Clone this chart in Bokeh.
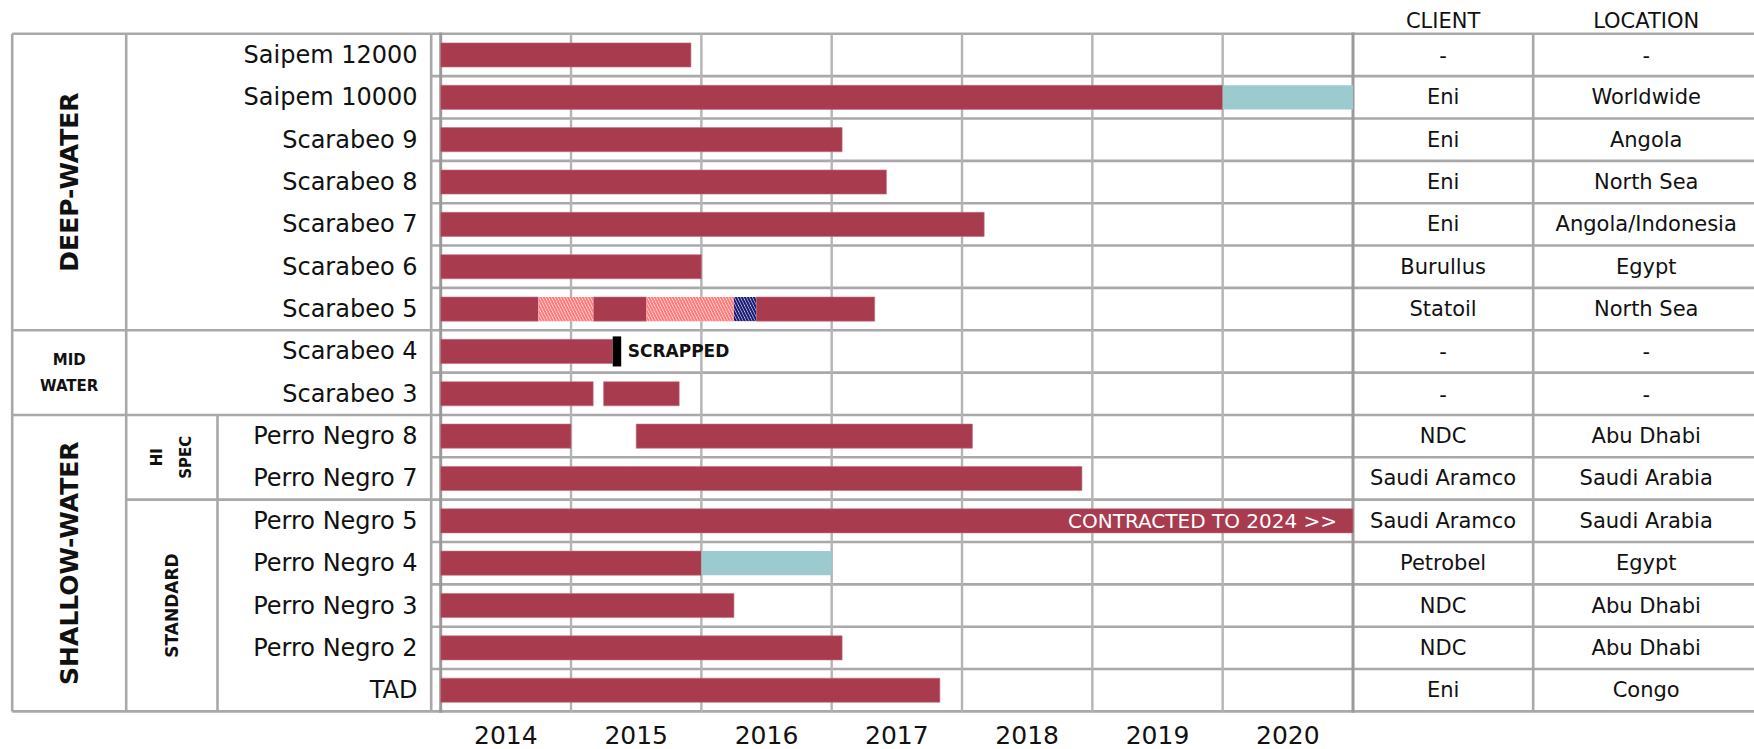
from bokeh.plotting import figure
from bokeh.models import Range1d
from bokeh.core.properties import value
from bokeh.embed import file_html
from bokeh.resources import INLINE
import math

# ---------------- data ----------------
rigs = ["Saipem 12000", "Saipem 10000", "Scarabeo 9", "Scarabeo 8", "Scarabeo 7",
        "Scarabeo 6", "Scarabeo 5", "Scarabeo 4", "Scarabeo 3", "Perro Negro 8",
        "Perro Negro 7", "Perro Negro 5", "Perro Negro 4", "Perro Negro 3",
        "Perro Negro 2", "TAD"]
clients = ["-", "Eni", "Eni", "Eni", "Eni", "Burullus", "Statoil", "-", "-", "NDC",
           "Saudi Aramco", "Saudi Aramco", "Petrobel", "NDC", "NDC", "Eni"]
locations = ["-", "Worldwide", "Angola", "North Sea", "Angola/Indonesia", "Egypt",
             "North Sea", "-", "-", "Abu Dhabi", "Saudi Arabia", "Saudi Arabia", "Egypt",
             "Abu Dhabi", "Abu Dhabi", "Congo"]
table_headers = ["CLIENT", "LOCATION"]

groups = ["DEEP-WATER", "MID\nWATER", "SHALLOW-WATER"]
group_first = ["Saipem 12000", "Scarabeo 4", "Perro Negro 8"]
group_last = ["Scarabeo 5", "Scarabeo 3", "TAD"]
group_rotated = [True, False, True]
subgroups = ["HI\nSPEC", "STANDARD"]
subgroup_first = ["Perro Negro 8", "Perro Negro 5"]
subgroup_last = ["Perro Negro 7", "TAD"]

years = ["2014", "2015", "2016", "2017", "2018", "2019", "2020"]

# contracted periods (decimal years)
contract_rig = ["Saipem 12000", "Saipem 10000", "Scarabeo 9", "Scarabeo 8", "Scarabeo 7",
                "Scarabeo 6", "Scarabeo 5", "Scarabeo 5", "Scarabeo 5", "Scarabeo 4",
                "Scarabeo 3", "Scarabeo 3", "Perro Negro 8", "Perro Negro 8",
                "Perro Negro 7", "Perro Negro 5", "Perro Negro 4", "Perro Negro 3",
                "Perro Negro 2", "TAD"]
contract_start = [2014.0, 2014.0, 2014.0, 2014.0, 2014.0,
                  2014.0, 2014.0, 2015.17, 2016.42, 2014.0,
                  2014.0, 2015.25, 2014.0, 2015.5,
                  2014.0, 2014.0, 2014.0, 2014.0,
                  2014.0, 2014.0]
contract_end = [2015.92, 2020.0, 2017.08, 2017.42, 2018.17,
                2016.0, 2014.75, 2015.58, 2017.33, 2015.32,
                2015.17, 2015.83, 2015.0, 2018.08,
                2018.92, 2021.0, 2016.0, 2016.25,
                2017.08, 2017.83]
# option periods
option_rig = ["Saipem 10000", "Perro Negro 4"]
option_start = [2020.0, 2016.0]
option_end = [2021.0, 2017.0]
# idle periods (red hatch)
idle_rig = ["Scarabeo 5", "Scarabeo 5"]
idle_start = [2014.75, 2015.58]
idle_end = [2015.17, 2016.25]
# yard periods (navy hatch)
yard_rig = ["Scarabeo 5"]
yard_start = [2016.25]
yard_end = [2016.42]
# scrapped
scrapped_rig = ["Scarabeo 4"]
scrapped_date = [2015.32]
scrapped_label = ["SCRAPPED"]
# notes on bars
note_rig = ["Perro Negro 5"]
note_text = ["CONTRACTED TO 2024 >>"]

# ---------------- styles / layout ----------------
RED = "#A93B4F"
TEAL = "#9CCBCF"
HATCH_RED = "#FF7C7C"
NAVY = "#1C1C78"
LINE = "#a9a9a9"
BORDER = "#9a9a9a"
FONT = value("DejaVu Sans")

W, H = 1754, 749
ORIGIN = 0
ROW_PX = 42.35
TOP_PX = 33.3
X_START_PX = 440.2
YEAR_PX = 130.33
L0, L1, L2, L3 = 11.7, 125.7, 217.0, 430.7
R1 = 1532.7
R_END = ORIGIN + W
LABEL_RIGHT = 417
BAR_H = 0.57

N = len(rigs)
row = {r: i for i, r in enumerate(rigs)}

def center(names):
    return [row[n] + 0.5 for n in names]

y_top = -(TOP_PX - ORIGIN) / ROW_PX
y_bot = y_top + H / ROW_PX
y_first = int(years[0])
y_last = int(years[-1]) + 1
yr_start = y_first - (X_START_PX - ORIGIN) / YEAR_PX
gantt_right_px = X_START_PX + (y_last - y_first) * YEAR_PX

p = figure(width=W, height=H, x_range=Range1d(ORIGIN, ORIGIN + W),
           y_range=Range1d(y_bot, y_top), output_backend="svg",
           toolbar_location=None, min_border=0, outline_line_color=None,
           x_axis_location=None, y_axis_location=None)
p.grid.visible = False
p.extra_x_ranges = {"yr": Range1d(yr_start, yr_start + W / YEAR_PX)}

# ---------------- table lines ----------------
sub_top = row[subgroup_first[0]]
x0s, x1s, y0s, y1s = [], [], [], []
for x in (L0, L1, L3):
    x0s.append(x); x1s.append(x); y0s.append(0); y1s.append(N)
x0s.append(L2); x1s.append(L2); y0s.append(sub_top); y1s.append(N)
for g in group_first:
    x0s.append(L0); x1s.append(L3); y0s.append(row[g]); y1s.append(row[g])
x0s.append(L0); x1s.append(L3); y0s.append(N); y1s.append(N)
for s in subgroup_first[1:]:
    x0s.append(L1); x1s.append(L3); y0s.append(row[s]); y1s.append(row[s])
for k in range(0, N + 1):
    x0s.append(L3); x1s.append(R_END); y0s.append(k); y1s.append(k)
x0s.append(R1); x1s.append(R1); y0s.append(0); y1s.append(N)
p.segment(x0=x0s, y0=y0s, x1=x1s, y1=y1s, line_color=LINE, line_width=2.6)

# year grid lines
yb = list(range(y_first + 1, y_last))
p.segment(x0=yb, x1=yb, y0=[0] * len(yb), y1=[N] * len(yb), line_color="#b4b4b4",
          line_width=2.4, x_range_name="yr")
# gantt border
p.segment(x0=[y_first, y_last], x1=[y_first, y_last], y0=[-0.03, -0.03], y1=[N + 0.03, N + 0.03],
          line_color=BORDER, line_width=3, x_range_name="yr")

# ---------------- bars ----------------
p.hbar(y=center(contract_rig), left=contract_start, right=contract_end, height=BAR_H,
       fill_color=RED, line_color="#c07080", line_width=0.6, x_range_name="yr")
p.hbar(y=center(option_rig), left=option_start, right=option_end, height=BAR_H,
       fill_color=TEAL, line_color=None, x_range_name="yr")
p.hbar(y=center(idle_rig), left=idle_start, right=idle_end, height=BAR_H,
       fill_color="white", line_color=None, hatch_pattern="left_diagonal_line",
       hatch_color=HATCH_RED, hatch_scale=6, hatch_weight=2.2, x_range_name="yr")
p.hbar(y=center(yard_rig), left=yard_start, right=yard_end, height=BAR_H,
       fill_color="white", line_color=None, hatch_pattern="left_diagonal_line",
       hatch_color=NAVY, hatch_scale=6, hatch_weight=2.2, x_range_name="yr")
p.hbar(y=center(scrapped_rig), left=scrapped_date, right=[d + 0.065 for d in scrapped_date],
       height=0.71, fill_color="black", line_color=None, x_range_name="yr")
p.text(x=scrapped_date, y=center(scrapped_rig), text=scrapped_label, x_offset=15,
       text_font=FONT, text_font_size="17px", text_font_style="bold",
       text_baseline="middle", text_align="left", text_color="#111111", x_range_name="yr")
p.text(x=[y_last] * len(note_rig), y=center(note_rig), text=note_text, x_offset=-16,
       text_font=FONT, text_font_size="20px", text_baseline="middle", text_align="right",
       text_color="white", x_range_name="yr")

# year labels
p.text(x=[int(y) + 0.5 for y in years], y=[N] * len(years), text=years, y_offset=24,
       text_font=FONT, text_font_size="25px", text_align="center", text_baseline="middle",
       text_color="#111111", x_range_name="yr")

# ---------------- left table text ----------------
p.text(x=[LABEL_RIGHT] * N, y=center(rigs), text=rigs, text_font=FONT, text_font_size="24px",
       text_align="right", text_baseline="middle", text_color="#111111")

for g, f, l, rot in zip(groups, group_first, group_last, group_rotated):
    yc = (row[f] + row[l] + 1) / 2
    if rot:
        p.text(x=[(L0 + L1) / 2], y=[yc], text=[g], angle=math.pi / 2, text_font=FONT,
               text_font_size="25px", text_font_style="bold", text_align="center",
               text_baseline="middle", text_color="#111111")
    else:
        p.text(x=[(L0 + L1) / 2], y=[yc], text=[g], text_font=FONT, text_font_size="15px",
               text_font_style="bold", text_align="center", text_baseline="middle",
               text_line_height=1.45, text_color="#111111")
sub_sizes = ["15px", "17px"]
for s, f, l, sz in zip(subgroups, subgroup_first, subgroup_last, sub_sizes):
    yc = (row[f] + row[l] + 1) / 2
    p.text(x=[(L1 + L2) / 2], y=[yc], text=[s], angle=math.pi / 2, text_font=FONT,
           text_font_size=sz, text_font_style="bold", text_align="center",
           text_baseline="middle", text_line_height=1.6, text_color="#111111")

# ---------------- right table text ----------------
cx_client = (gantt_right_px + R1) / 2
cx_loc = 1645.7
p.text(x=[cx_client, cx_loc], y=[0, 0], text=table_headers, y_offset=-13, text_font=FONT,
       text_font_size="21px", text_align="center", text_baseline="middle", text_color="#111111")
p.text(x=[cx_client] * N, y=center(rigs), text=clients, text_font=FONT, text_font_size="21px",
       text_align="center", text_baseline="middle", text_color="#111111")
p.text(x=[cx_loc] * N, y=center(rigs), text=locations, text_font=FONT, text_font_size="21px",
       text_align="center", text_baseline="middle", text_color="#111111")

open("out.html", "w").write(file_html(p, INLINE))
